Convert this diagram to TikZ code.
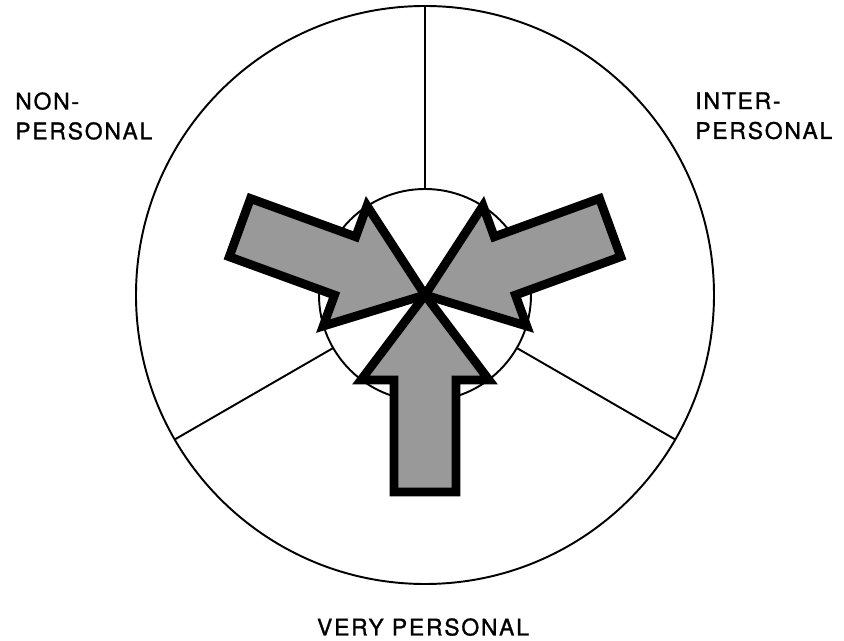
\documentclass[tikz,border=0pt]{standalone}
\usepackage{fontspec}
\setmainfont{TeX Gyre Heros}[LetterSpace=8,FakeBold=1.2]
\usepackage{tikz}
\usetikzlibrary{positioning,calc}

\begin{document}
\begin{tikzpicture}[
  font=\fontsize{13}{17}\selectfont,
  ring/.style    ={draw=black, line width=1.1pt},
  divider/.style ={draw=black, line width=1.1pt},
  fatarrow/.style={draw=black, fill=black!40, line width=5pt, line join=miter},
  label/.style   ={inner sep=0pt, align=left},
]
\useasboundingbox (-8.5,-6.92) rectangle (8.38,5.9);

% Outer circle, inner circle and the three dividers.
\coordinate (c) at (0,0);
\draw[ring] (c) circle (5.78);
\draw[ring] (c) circle (2.12);
\foreach \a in {90,210,330}
  \draw[divider] ($(c)+(\a:2.12)$) -- ($(c)+(\a:5.78)$);

% Three fat arrows meeting at the centre.
\foreach \a in {270,160,20}
  \draw[fatarrow, rotate=\a]
    (0,0) -- (1.7,1.28) -- (1.7,0.62) -- (3.94,0.62)
    -- (3.94,-0.62) -- (1.7,-0.62) -- (1.7,-1.28) -- cycle;

% Labels.
\node[label, anchor=north west] (nonp)   at (-8.2,4.06) {NON-\\PERSONAL};
\node[label, anchor=north west] (interp) at (5.4,4.06)  {INTER-\\PERSONAL};
\node[label, anchor=north]      (veryp)  at (-0.04,-6.46) {VERY PERSONAL};
\end{tikzpicture}
\end{document}
